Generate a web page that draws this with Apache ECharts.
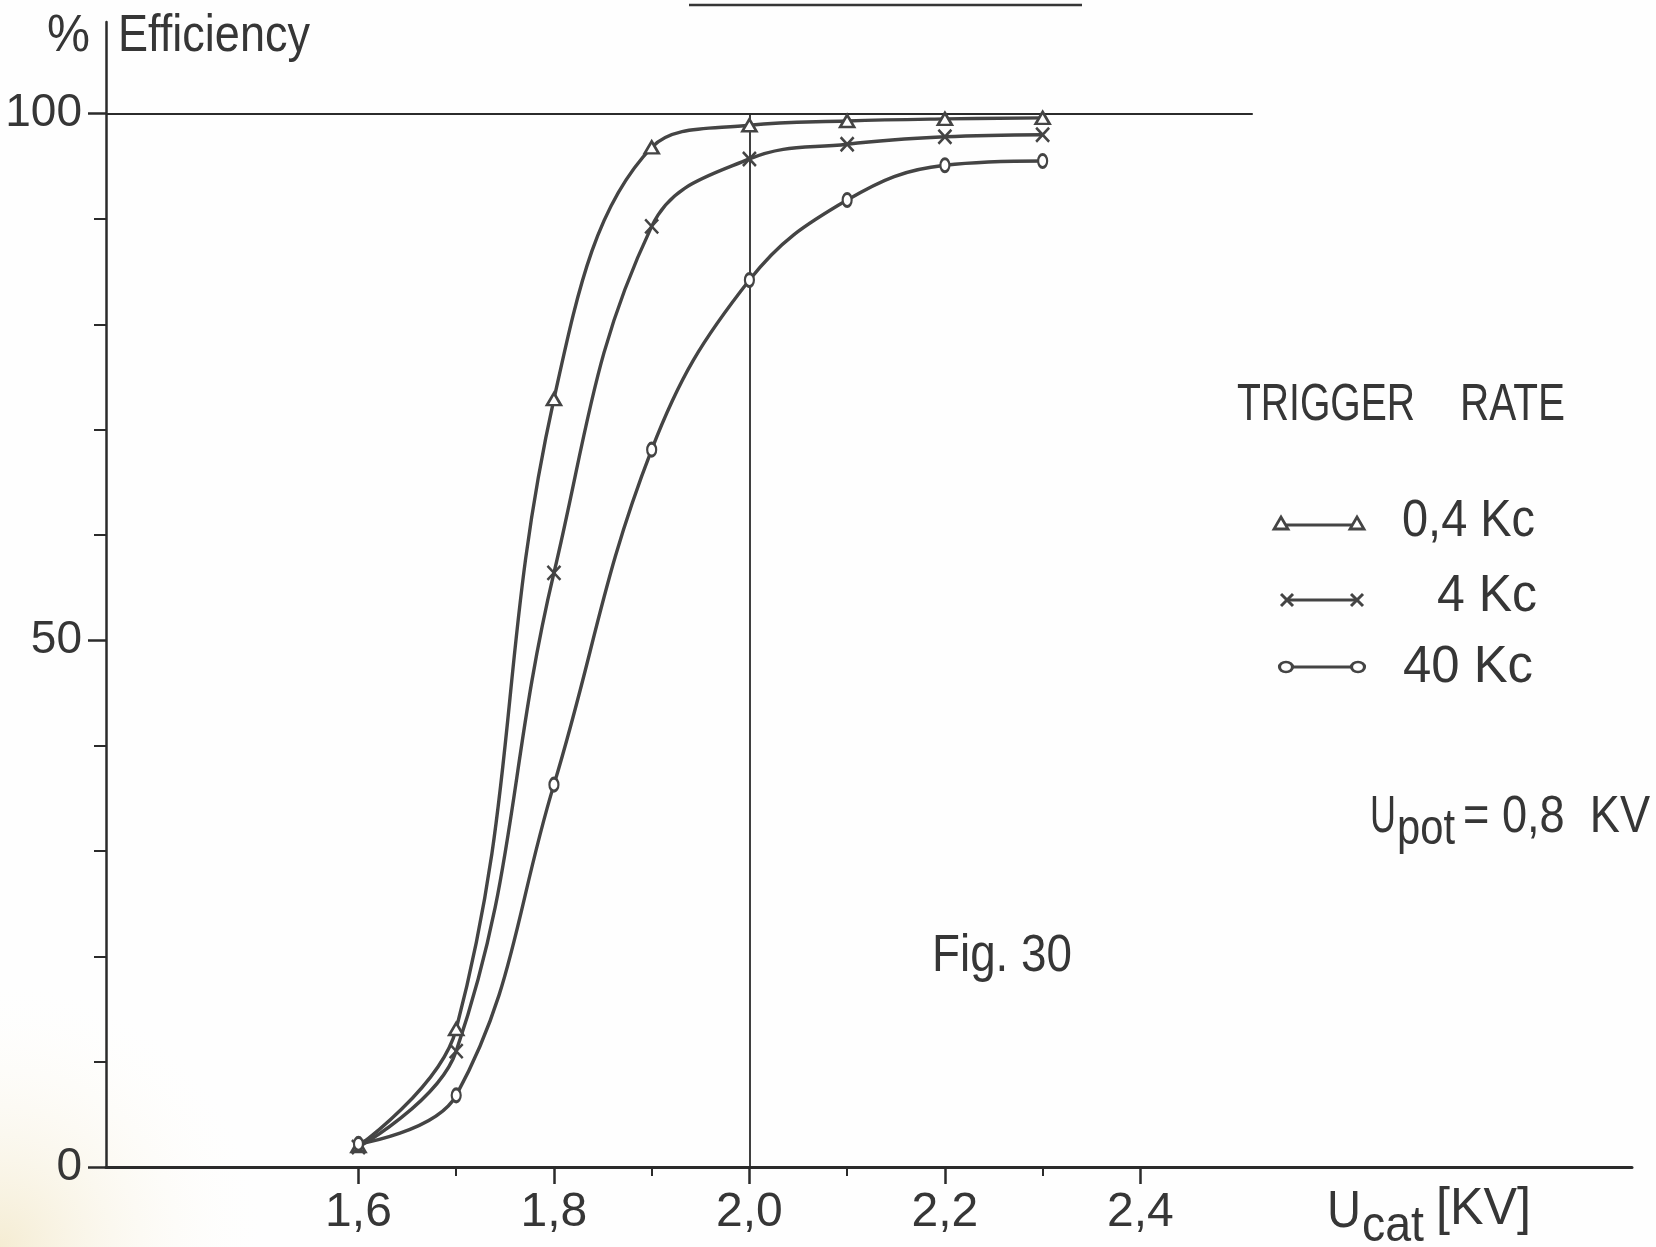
<!DOCTYPE html>
<html>
<head>
<meta charset="utf-8">
<script src="https://cdn.jsdelivr.net/npm/echarts@6/dist/echarts.min.js"></script>
<style>
html,body{margin:0;padding:0;background:#ffffff;}
#c{width:1656px;height:1247px;}
</style>
</head>
<body>
<div id="c"></div>
<script>
// ---------------- data ----------------
const voltageKV = [1.6, 1.7, 1.8, 1.9, 2.0, 2.1, 2.2, 2.3];
const eff_04Kc = [2.0, 13.1, 72.9, 96.8, 98.9, 99.3, 99.5, 99.6];
const eff_4Kc  = [1.9, 11.0, 56.4, 89.3, 95.7, 97.1, 97.8, 98.0];
const eff_40Kc = [2.2, 6.8, 36.3, 68.1, 84.2, 91.8, 95.1, 95.5];
const seriesNames = ['0,4 Kc', '4 Kc', '40 Kc'];
const xMajorTicks = [1.6, 1.8, 2.0, 2.2, 2.4];
const xMinorTicks = [1.7, 1.9, 2.1, 2.3];
const yLabelTicks = [0, 50, 100];
const yMinorTicks = [10, 20, 30, 40, 60, 70, 80, 90];
const refLevel = 100;      // horizontal reference line (%)
const refLevelEnd = 2.515; // where it stops (kV)
const refVoltage = 2.0;    // vertical reference line (kV)

// ---------------- layout / style ----------------
const X_MIN = 1.3417, X_MAX = 2.903, Y_MAX = 108.7;
const INK = '#363636', CURVE = '#444444', AXIS = '#2b2b2b';

const ctx = document.createElement('canvas').getContext('2d');
function measure(t, font){ ctx.font = font; return ctx.measureText(t).width; }
function hasFont(name){
  const s = '0,4 Kc 100 Efficiency TRIGGER';
  return measure(s, '50px "' + name + '", monospace') !== measure(s, '50px monospace');
}
const NARROW = hasFont('Liberation Sans Narrow');
const FONT = NARROW ? 'Liberation Sans Narrow' : 'Liberation Sans';
const AX_SIZE = NARROW ? 52 : 46;
const MID = 0.3465;

function txt(text, x, baseline, size, width){
  const font = size + 'px "' + FONT + '"';
  const w = measure(text, font);
  return {
    type: 'text', x: x, y: baseline - MID * size, scaleX: width ? width / w : 1,
    silent: true, z: 10,
    style: { text: text, font: font, fill: INK, align: 'left', verticalAlign: 'middle' }
  };
}
const fmtComma = v => v.toFixed(1).replace('.', ',');

const symbols = [
  { symbol: 'triangle', size: [14, 12], fill: '#ffffff' },
  { symbol: 'path://M0,0L10,10M10,0L0,10', size: [13, 14], fill: CURVE },
  { symbol: 'circle', size: [9, 13], fill: '#ffffff' }
];
const effSets = [eff_04Kc, eff_4Kc, eff_40Kc];

const series = effSets.map((eff, i) => ({
  name: seriesNames[i],
  type: 'line',
  data: voltageKV.map((v, k) => [v, eff[k]]),
  smooth: 0.4,
  symbol: symbols[i].symbol,
  symbolSize: symbols[i].size,
  showSymbol: true,
  lineStyle: { color: CURVE, width: 3.4 },
  itemStyle: { color: symbols[i].fill, borderColor: CURVE, borderWidth: 2.6 },
  emphasis: { disabled: true },
  z: 5
}));
series[0].markLine = {
  silent: true, symbol: ['none', 'none'], label: { show: false },
  lineStyle: { color: AXIS, width: 1.8, type: 'solid' },
  emphasis: { disabled: true },
  data: [
    [{ coord: [X_MIN, refLevel] }, { coord: [refLevelEnd, refLevel] }],
    [{ coord: [refVoltage, 0] }, { coord: [refVoltage, refLevel] }]
  ]
};

// legend drawn as line with markers at both ends
const legendRows = [
  { x1: 1281, x2: 1357, y: 525 },
  { x1: 1287, x2: 1357, y: 600 },
  { x1: 1286, x2: 1358, y: 667 }
];
const legendGraphics = [];
legendRows.forEach((r, i) => {
  legendGraphics.push({ type: 'line', silent: true, z: 10,
    shape: { x1: r.x1, y1: r.y, x2: r.x2, y2: r.y }, style: { stroke: CURVE, lineWidth: 3.2 } });
  [r.x1, r.x2].forEach(cx => {
    if (i === 0) {
      legendGraphics.push({ type: 'polygon', silent: true, z: 11,
        shape: { points: [[cx - 7, r.y + 4], [cx + 7, r.y + 4], [cx, r.y - 8]] },
        style: { fill: '#fff', stroke: CURVE, lineWidth: 2.8 } });
    } else if (i === 1) {
      legendGraphics.push({ type: 'line', silent: true, z: 11,
        shape: { x1: cx - 6, y1: r.y - 6, x2: cx + 6, y2: r.y + 6 }, style: { stroke: CURVE, lineWidth: 3 } });
      legendGraphics.push({ type: 'line', silent: true, z: 11,
        shape: { x1: cx + 6, y1: r.y - 6, x2: cx - 6, y2: r.y + 6 }, style: { stroke: CURVE, lineWidth: 3 } });
    } else {
      legendGraphics.push({ type: 'circle', silent: true, z: 11, x: cx, y: r.y, scaleX: 1.3,
        shape: { cx: 0, cy: 0, r: 5 }, style: { fill: '#fff', stroke: CURVE, lineWidth: 2.4 } });
    }
  });
});

const graphics = [
  { type: 'rect', silent: true, z: -10, shape: { x: 0, y: 0, width: 1656, height: 1247 },
    style: { fill: { type: 'radial', x: 0, y: 1, r: 0.22,
      colorStops: [{ offset: 0, color: 'rgba(243,233,203,0.85)' }, { offset: 1, color: 'rgba(255,255,255,0)' }] } } },
  { type: 'line', silent: true, z: 10, shape: { x1: 689, y1: 5, x2: 1082, y2: 5 },
    style: { stroke: INK, lineWidth: 2.5 } },
  txt('%', 47, 55, 52, 43),
  txt('Efficiency', 118, 55, 52, 192),
  txt('TRIGGER', 1237, 424, 51, 178),
  txt('RATE', 1460, 424, 51, 105),
  txt(seriesNames[0], 1402, 540, 51, 133),
  txt(seriesNames[1], 1437, 615, 51, 100),
  txt(seriesNames[2], 1403, 686, 51, 130),
  txt('Fig. 30', 932, 975, 51, 140),
  txt('U', 1370, 836, 51, 26),
  txt('pot', 1397, 848, 50, 58),
  txt('= 0,8  KV', 1463, 836, 51, 187),
  txt('U', 1327, 1231, 52, 34),
  txt('cat', 1362, 1245, 50, 62),
  txt('[KV]', 1436, 1228, 51, 95)
].concat(legendGraphics);

const chart = echarts.init(document.getElementById('c'), null, { renderer: 'canvas', width: 1656, height: 1247 });
chart.setOption({
  backgroundColor: '#fefefe',
  animation: false,
  grid: { left: 106, right: 24, top: 22, bottom: 80, containLabel: false, outerBoundsMode: 'none' },
  xAxis: [
    { type: 'value', min: X_MIN, max: X_MAX, position: 'bottom',
      axisLine: { show: true, onZero: false, lineStyle: { color: AXIS, width: 3 } },
      axisTick: { show: true, customValues: xMajorTicks, length: 17, lineStyle: { color: AXIS, width: 2.5 } },
      axisLabel: { show: true, customValues: xMajorTicks, formatter: fmtComma, margin: 22,
        fontSize: AX_SIZE + 2, fontFamily: FONT, color: INK },
      splitLine: { show: false } },
    { type: 'value', min: X_MIN, max: X_MAX, position: 'bottom',
      axisLine: { show: false, onZero: false },
      axisTick: { show: true, customValues: xMinorTicks, length: 9, lineStyle: { color: AXIS, width: 2 } },
      axisLabel: { show: false }, splitLine: { show: false } }
  ],
  yAxis: [
    { type: 'value', min: 0, max: Y_MAX, position: 'left',
      axisLine: { show: true, onZero: false, lineStyle: { color: AXIS, width: 2.5 } },
      axisTick: { show: true, customValues: yLabelTicks, length: 18, lineStyle: { color: AXIS, width: 2.5 } },
      axisLabel: { show: true, customValues: yLabelTicks, margin: 24, fontSize: AX_SIZE, fontFamily: FONT, color: INK },
      splitLine: { show: false } },
    { type: 'value', min: 0, max: Y_MAX, position: 'left',
      axisLine: { show: false, onZero: false },
      axisTick: { show: true, customValues: yMinorTicks, length: 12, lineStyle: { color: AXIS, width: 2 } },
      axisLabel: { show: false }, splitLine: { show: false } }
  ],
  graphic: graphics,
  series: series
});
</script>
</body>
</html>
